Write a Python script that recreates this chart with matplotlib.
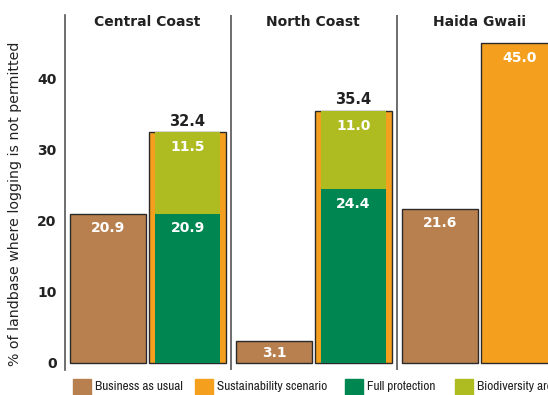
import matplotlib
matplotlib.use('Agg')
import matplotlib.pyplot as plt
from matplotlib import font_manager as fm
from matplotlib.patches import Rectangle

# data
regions = ['Central Coast', 'North Coast', 'Haida Gwaii']
business_as_usual = [20.9, 3.1, 21.6]
sustainability = [32.4, 35.4, 45.0]
full_protection = [20.9, 24.4, None]
biodiversity = [11.5, 11.0, None]
legend_labels = ['Business as usual', 'Sustainability scenario', 'Full protection', 'Biodiversity area']
yticks = [0, 10, 20, 30, 40]

c_bau = '#B9804F'
c_sus = '#F4A01E'
c_full = '#008751'
c_bio = '#AEBC22'
c_edge = '#2a2a2a'
c_line = '#555555'

# legend text is set in a condensed face in the original; use one if there is one
def _is_regular(f):
    return f.style == 'normal' and f.weight in (400, 'normal', 'regular', 'book')

narrow = [f for f in fm.fontManager.ttflist
          if _is_regular(f) and ('Narrow' in f.name or 'Narrow' in f.fname)]
narrow += [f for f in fm.fontManager.ttflist
           if _is_regular(f) and 'Condensed' in f.fname and 'Bold' not in f.fname]
if narrow:
    leg_prop = fm.FontProperties(fname=narrow[0].fname, size=9.5)
else:
    leg_prop = fm.FontProperties(family='Liberation Sans', size=9.5)

fig = plt.figure(figsize=(5.48, 3.95), dpi=100)
ax = fig.add_axes([65 / 548, 25 / 395, 498 / 548, 355 / 395])
ax.set_xlim(0, 3)
ax.set_ylim(-1, 48.9)

w = 0.458
inset = 0.036
for i, name in enumerate(regions):
    x_bau = i + 0.259
    x_sus = i + 0.738
    ax.bar(x_bau, business_as_usual[i], width=w, color=c_bau, edgecolor=c_edge, linewidth=1)
    ax.bar(x_sus, sustainability[i], width=w, color=c_sus, edgecolor=c_edge, linewidth=1)
    if full_protection[i] is not None:
        ax.bar(x_sus, full_protection[i], width=w - 2 * inset, color=c_full, linewidth=0)
        ax.bar(x_sus, biodiversity[i], bottom=full_protection[i], width=w - 2 * inset,
               color=c_bio, linewidth=0)
        ax.text(x_sus, full_protection[i] - 2.0, f'{full_protection[i]:.1f}', color='white',
                fontsize=10, fontweight='bold', ha='center', va='center')
        ax.text(x_sus, sustainability[i] - 2.1, f'{biodiversity[i]:.1f}', color='white',
                fontsize=10, fontweight='bold', ha='center', va='center')
        ax.text(x_sus, sustainability[i] + 1.6, f'{sustainability[i]:.1f}', color='#222222',
                fontsize=10.5, fontweight='bold', ha='center', va='center')
    else:
        ax.text(x_sus, sustainability[i] - 2.2, f'{sustainability[i]:.1f}', color='white',
                fontsize=10, fontweight='bold', ha='center', va='center')
    if business_as_usual[i] > 5:
        ax.text(x_bau, business_as_usual[i] - 2.0, f'{business_as_usual[i]:.1f}', color='white',
                fontsize=10, fontweight='bold', ha='center', va='center')
    else:
        ax.text(x_bau, business_as_usual[i] / 2 - 0.2, f'{business_as_usual[i]:.1f}', color='white',
                fontsize=10, fontweight='bold', ha='center', va='center')
    ax.text(i + 0.495, 47.9, name, fontsize=10, fontweight='bold', ha='center', va='center',
            color='#222222')

for xs in [1, 2]:
    ax.axvline(xs, color=c_line, linewidth=1.2)

for s in ['top', 'right', 'bottom']:
    ax.spines[s].set_visible(False)
ax.spines['left'].set_color(c_line)
ax.spines['left'].set_linewidth(1.2)
ax.set_xticks([])
ax.set_yticks(yticks)
ax.tick_params(axis='y', length=0, pad=6)
for lab in ax.get_yticklabels():
    lab.set_fontweight('bold')
    lab.set_fontsize(10)
    lab.set_color('#222222')
ax.set_ylabel('% of landbase where logging is not permitted', fontsize=10.2, color='#222222')
ax.yaxis.set_label_coords(-0.086, 0.468)

# legend along the bottom
legend_colors = [c_bau, c_sus, c_full, c_bio]
sq_x = [73, 195, 345, 455]
leg_texts = []
for lx, col, lab in zip(sq_x, legend_colors, legend_labels):
    fig.patches.append(Rectangle((lx / 548, 0), 18 / 548, 16 / 395, transform=fig.transFigure,
                                 color=col, zorder=3))
    leg_texts.append(fig.text((lx + 22) / 548, 8 / 395, lab, va='center', ha='left',
                              color='#222222', fontproperties=leg_prop))

# shrink the legend text until "Sustainability scenario" fits before the next swatch
renderer = fig.canvas.get_renderer()
width = leg_texts[1].get_window_extent(renderer).width
if width > 118:
    new_size = 9.5 * 118 / width
    for t in leg_texts:
        t.set_fontsize(new_size)

plt.savefig('out.png', dpi=100)
